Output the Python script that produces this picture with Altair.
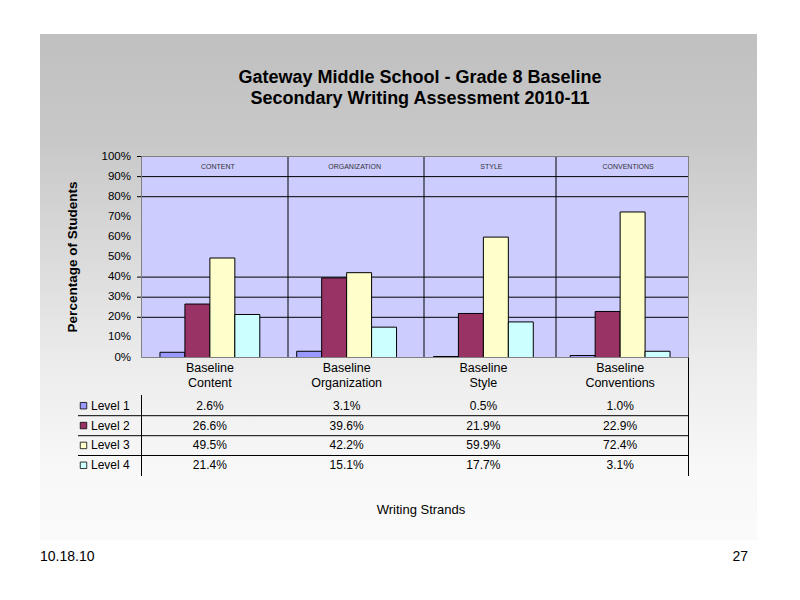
import altair as alt
import pandas as pd

# ---------------- data ----------------
strands = ["Baseline Content", "Baseline Organization", "Baseline Style", "Baseline Conventions"]
headers = ["CONTENT", "ORGANIZATION", "STYLE", "CONVENTIONS"]
levels = ["Level 1", "Level 2", "Level 3", "Level 4"]
level1 = [2.6, 3.1, 0.5, 1.0]
level2 = [26.6, 39.6, 21.9, 22.9]
level3 = [49.5, 42.2, 59.9, 72.4]
level4 = [21.4, 15.1, 17.7, 3.1]
colors = ["#9999FF", "#993366", "#FFFFCC", "#CCFFFF"]
y_ticks = [0, 10, 20, 30, 40, 50, 60, 70, 80, 90, 100]
grid_values = [20, 30, 40, 80, 90, 100]

series = [level1, level2, level3, level4]
rows = []
for i, s in enumerate(strands):
    for lv, vals in zip(levels, series):
        rows.append({"strand": s, "header": headers[i], "level": lv, "value": vals[i]})
df = pd.DataFrame(rows)
strand_df = pd.DataFrame({"strand": strands, "header": headers})
level_df = pd.DataFrame({"level": levels})
grid_df = pd.DataFrame({"g": grid_values})
tick_df = pd.DataFrame({"t": y_ticks})
one = pd.DataFrame({"a": [0]})

FONT = "Liberation Sans"

# ---------------- scales (chart coords = page - 8) ----------------
xscale = alt.Scale(domain=strands, range=[133.5, 680.5], paddingInner=0.27, paddingOuter=0.135)
yscale = alt.Scale(domain=[0, 100], range=[349.5, 148.5], nice=False)
rowscale = alt.Scale(type="point", domain=levels, range=[397.7, 457.3], padding=0)
cscale = alt.Scale(domain=levels, range=colors)

layers = []

# slide background gradient box
layers.append(
    alt.Chart(one).mark_rect(
        fill=alt.Gradient(
            gradient="linear",
            stops=[
                alt.GradientStop(color="#c0c0c0", offset=0),
                alt.GradientStop(color="#c8c8c8", offset=0.21),
                alt.GradientStop(color="#ebebeb", offset=0.64),
                alt.GradientStop(color="#f8f8f8", offset=0.86),
                alt.GradientStop(color="#fafafa", offset=1),
            ],
            x1=0, x2=0, y1=0, y2=1,
        )
    ).encode(x=alt.value(32), x2=alt.value(749), y=alt.value(26), y2=alt.value(532))
)

# plot area fill
layers.append(
    alt.Chart(one).mark_rect(fill="#CCCCFF").encode(
        x=alt.value(133.5), x2=alt.value(680.5), y=alt.value(148.5), y2=alt.value(349.5)
    )
)

# gridlines
layers.append(
    alt.Chart(grid_df).mark_rule(color="black", strokeWidth=1).encode(
        y=alt.Y("g:Q", scale=yscale, axis=None),
        x=alt.value(129), x2=alt.value(680.5),
    )
)

# vertical separators inside the plot
for xv in [280, 416, 548]:
    layers.append(
        alt.Chart(one).mark_rule(color="black", strokeWidth=1).encode(
            x=alt.value(xv), y=alt.value(148.5), y2=alt.value(349.5)
        )
    )

# bars
layers.append(
    alt.Chart(df).mark_bar(stroke="black", strokeWidth=1).encode(
        x=alt.X("strand:N", scale=xscale, axis=None),
        xOffset=alt.XOffset("level:N", scale=alt.Scale(domain=levels, paddingInner=0, paddingOuter=0)),
        y=alt.Y("value:Q", scale=yscale, axis=None),
        color=alt.Color("level:N", scale=cscale, legend=None),
    )
)

# plot border
layers.append(
    alt.Chart(one).mark_rect(filled=False, stroke="#808080", strokeWidth=1).encode(
        x=alt.value(133.5), x2=alt.value(680.5), y=alt.value(148.5), y2=alt.value(349.5)
    )
)

# y tick labels (placed through the y scale)
layers.append(
    alt.Chart(tick_df).transform_calculate(lab="datum.t + '%'").mark_text(
        font=FONT, fontSize=11.5, color="black", align="right", baseline="middle"
    ).encode(
        y=alt.Y("t:Q", scale=yscale, axis=None),
        x=alt.value(123),
        text="lab:N",
    )
)

# tiny header labels inside plot
layers.append(
    alt.Chart(strand_df).mark_text(font=FONT, fontSize=7, color="#333333", dx=8, baseline="middle").encode(
        x=alt.X("strand:N", scale=xscale, axis=None, bandPosition=0.5),
        y=alt.value(159),
        text="header:N",
    )
)

# category labels below plot
layers.append(
    alt.Chart(strand_df).transform_calculate(lab="split(datum.strand, ' ')").mark_text(
        font=FONT, fontSize=12.5, color="black", baseline="top", lineHeight=15
    ).encode(
        x=alt.X("strand:N", scale=xscale, axis=None, bandPosition=0.5),
        y=alt.value(354),
        text="lab:N",
    )
)

# table lines
for yv in [407.7, 427.7, 447.5]:
    layers.append(
        alt.Chart(one).mark_rule(color="black", strokeWidth=1).encode(
            x=alt.value(70), x2=alt.value(680.5), y=alt.value(yv)
        )
    )
layers.append(
    alt.Chart(one).mark_rule(color="black", strokeWidth=1).encode(
        x=alt.value(133.5), y=alt.value(387), y2=alt.value(468)
    )
)
layers.append(
    alt.Chart(one).mark_rule(color="black", strokeWidth=1).encode(
        x=alt.value(680.5), y=alt.value(349.5), y2=alt.value(468)
    )
)

# table values
layers.append(
    alt.Chart(df).transform_calculate(lab="format(datum.value, '.1f') + '%'").mark_text(
        font=FONT, fontSize=12, color="black", baseline="middle"
    ).encode(
        x=alt.X("strand:N", scale=xscale, axis=None, bandPosition=0.5),
        y=alt.Y("level:N", scale=rowscale, axis=None),
        text="lab:N",
    )
)

# legend keys and level labels
layers.append(
    alt.Chart(level_df).mark_point(shape="square", filled=True, size=42, stroke="black", strokeWidth=0.8, opacity=1).encode(
        x=alt.value(75.5),
        y=alt.Y("level:N", scale=rowscale, axis=None),
        color=alt.Color("level:N", scale=cscale, legend=None),
    )
)
layers.append(
    alt.Chart(level_df).mark_text(font=FONT, fontSize=12, color="black", align="left", baseline="middle").encode(
        x=alt.value(83),
        y=alt.Y("level:N", scale=rowscale, axis=None),
        text="level:N",
    )
)

# title
layers.append(
    alt.Chart(one).mark_text(
        font=FONT, fontSize=18, fontWeight="bold", color="black", align="center", baseline="alphabetic",
        lineHeight=21,
        text=["Gateway Middle School - Grade 8 Baseline", "Secondary Writing Assessment 2010-11"],
    ).encode(x=alt.value(412), y=alt.value(75))
)

# y-axis title
layers.append(
    alt.Chart(one).mark_text(
        font=FONT, fontSize=13.5, fontWeight="bold", color="black", align="center", baseline="middle",
        angle=270, text="Percentage of Students",
    ).encode(x=alt.value(65), y=alt.value(249))
)

# x title
layers.append(
    alt.Chart(one).mark_text(
        font=FONT, fontSize=13, color="black", align="center", baseline="middle", text="Writing Strands",
    ).encode(x=alt.value(413), y=alt.value(502))
)

# footer
layers.append(
    alt.Chart(one).mark_text(
        font=FONT, fontSize=14, color="black", align="left", baseline="middle", text="10.18.10",
    ).encode(x=alt.value(32), y=alt.value(549))
)
layers.append(
    alt.Chart(one).mark_text(
        font=FONT, fontSize=14, color="black", align="right", baseline="middle", text="27",
    ).encode(x=alt.value(740), y=alt.value(549))
)

chart = alt.layer(*layers).resolve_scale(x="independent", y="independent").properties(
    width=784, height=584, autosize=alt.AutoSizeParams(type="none"), padding=0, background="white"
).configure_view(strokeWidth=0)

chart.save("out.html", embed_options={"renderer": "svg", "actions": False})
